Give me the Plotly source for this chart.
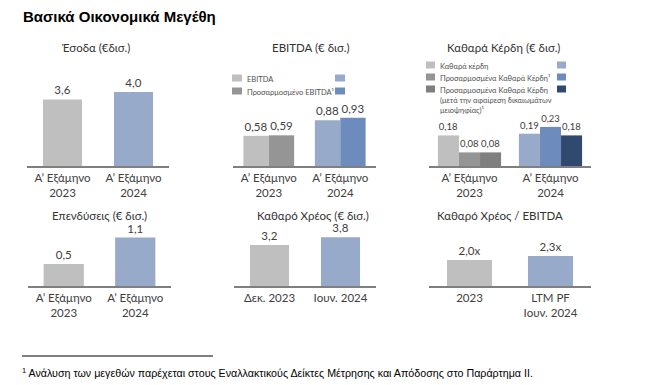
import plotly.graph_objects as go

# ---------------- data ----------------
h1_categories = ["Α’ Εξάμηνο<br>2023", "Α’ Εξάμηνο<br>2024"]
revenue = [3.6, 4.0]
ebitda = [0.58, 0.88]
adj_ebitda = [0.59, 0.93]
net_profit = [0.18, 0.19]
adj_net_profit = [0.08, 0.23]
adj_net_profit_after_mi = [0.08, 0.18]
capex = [0.5, 1.1]
debt_categories = ["Δεκ. 2023", "Ιουν. 2024"]
net_debt = [3.2, 3.8]
leverage_categories = ["2023", "LTM PF<br>Ιουν. 2024"]
leverage = [2.0, 2.3]

panel_titles = ["Έσοδα (€δισ.)", "EBITDA (€ δισ.)", "Καθαρά Κέρδη (€ δισ.)",
                "Επενδύσεις (€ δισ.)", "Καθαρό Χρέος (€ δισ.)", "Καθαρό Χρέος / EBITDA"]
ebitda_legend = ["EBITDA", "Προσαρμοσμένο EBITDA¹"]
profit_legend = ["Καθαρά κέρδη", "Προσαρμοσμένα Καθαρά Κέρδη¹",
                 "Προσαρμοσμένα Καθαρά Κέρδη<br>(μετά την αφαίρεση δικαιωμάτων<br>μειοψηφίας)¹"]
main_title = "Βασικά Οικονομικά Μεγέθη"
footnote = "<sup>1</sup> Ανάλυση των μεγεθών παρέχεται στους Εναλλακτικούς Δείκτες Μέτρησης και Απόδοσης στο Παράρτημα ΙΙ."

# ---------------- style ----------------
W, H = 664, 385
GREY1, GREY2, GREY3 = "#bfbfbf", "#959595", "#7f7f7f"
BLUE1, BLUE2, BLUE3 = "#97aac9", "#6d8cbd", "#2f4a6e"
TXT = "#404040"
FONT = "Lato"

def px_x(x):
    return x / W

def px_y(y):
    return 1 - y / H

fig = go.Figure()

panels = [
    dict(x=(27, 169), base=166, top=60, scale=18.5),
    dict(x=(233, 376), base=166, top=60, scale=52.0),
    dict(x=(429, 591), base=166, top=60, scale=170.0),
    dict(x=(28, 171), base=286, top=225, scale=44.0),
    dict(x=(234, 376), base=286, top=225, scale=12.8),
    dict(x=(429, 591), base=286, top=225, scale=13.0),
]

def add_bar(i, cats, vals, colors, width, offset, fmt, fsize=11.5):
    fig.add_trace(go.Bar(
        x=cats, y=vals, marker=dict(color=colors, line=dict(width=0)),
        width=width, offset=offset,
        texttemplate=fmt, textposition="outside", cliponaxis=False,
        textfont=dict(family=FONT, size=fsize, color=TXT),
        xaxis=f"x{i+1}" if i else "x", yaxis=f"y{i+1}" if i else "y",
        showlegend=False, hoverinfo="skip"))

add_bar(0, h1_categories, revenue, [GREY1, BLUE1], 0.55, -0.275, "%{y:.1f}")
add_bar(1, h1_categories, ebitda, [GREY1, BLUE1], 0.355, -0.355, "%{y:.2f}")
add_bar(1, h1_categories, adj_ebitda, [GREY2, BLUE2], 0.355, 0.0, "%{y:.2f}")
add_bar(2, h1_categories, net_profit, [GREY1, BLUE1], 0.26, -0.39, "%{y:.2f}", 9.5)
add_bar(2, h1_categories, adj_net_profit, [GREY2, BLUE2], 0.26, -0.13, "%{y:.2f}", 9.5)
add_bar(2, h1_categories, adj_net_profit_after_mi, [GREY3, BLUE3], 0.26, 0.13, "%{y:.2f}", 9.5)
add_bar(3, h1_categories, capex, [GREY1, BLUE1], 0.563, -0.2815, "%{y:.1f}")
add_bar(4, debt_categories, net_debt, [GREY1, BLUE1], 0.55, -0.275, "%{y:.1f}")
add_bar(5, leverage_categories, leverage, [GREY1, BLUE1], 0.556, -0.278, "%{y:.1f}x")

layout = dict(
    width=W, height=H, margin=dict(l=0, r=0, t=0, b=0),
    paper_bgcolor="white", plot_bgcolor="white",
    separators=",.", showlegend=False,
    font=dict(family=FONT, color=TXT),
)
for i, p in enumerate(panels):
    suffix = str(i + 1) if i else ""
    ymax = (p["base"] - p["top"]) / p["scale"]
    layout[f"xaxis{suffix}"] = dict(
        domain=[px_x(p["x"][0]), px_x(p["x"][1])], range=[-0.5, 1.5],
        anchor=f"y{suffix}", type="category", showgrid=False, zeroline=False,
        showline=True, linecolor="#7f7f7f", linewidth=1.5, ticks="",
        tickfont=dict(family=FONT, size=11.5, color=TXT), fixedrange=True)
    layout[f"yaxis{suffix}"] = dict(
        domain=[px_y(p["base"]), px_y(p["top"])],
        anchor=f"x{suffix}", range=[0, ymax], visible=False, fixedrange=True)
fig.update_layout(**layout)

# panel titles
title_pos = [(96, 47), (311, 47), (503, 47), (99, 215), (313, 215), (500, 215)]
for t, (cx, cy) in zip(panel_titles, title_pos):
    fig.add_annotation(text=t, x=px_x(cx), y=px_y(cy), xref="paper", yref="paper",
                       showarrow=False, xanchor="center", yanchor="middle",
                       font=dict(family=FONT, size=11.5, color="#333333"))

# main title
fig.add_annotation(text=f"<b>{main_title}</b>", x=px_x(21), y=px_y(16), xref="paper", yref="paper",
                   showarrow=False, xanchor="left", yanchor="middle",
                   font=dict(family="Liberation Sans", size=15, color="#000000"))

# footnote
fig.add_shape(type="line", xref="paper", yref="paper",
              x0=px_x(22), x1=px_x(213), y0=px_y(356), y1=px_y(356),
              line=dict(color="#000000", width=1))
fig.add_annotation(text=footnote, x=px_x(20), y=px_y(372), xref="paper", yref="paper",
                   showarrow=False, xanchor="left", yanchor="middle",
                   font=dict(family="Liberation Sans", size=10.7, color="#000000"))

# legends (swatches + text)
def legend(items, left_colors, right_colors, sq_x, right_x, rows_y, text_x, size):
    for name, lc, rc, ry in zip(items, left_colors, right_colors, rows_y):
        for x0, c in ((sq_x, lc), (right_x, rc)):
            fig.add_shape(type="rect", xref="paper", yref="paper",
                          x0=px_x(x0), x1=px_x(x0 + size), y0=px_y(ry + 3.5), y1=px_y(ry - 3.5),
                          fillcolor=c, line=dict(width=0))
        fig.add_annotation(text=name, x=px_x(text_x), y=px_y(ry - 5.5), xref="paper", yref="paper",
                           showarrow=False, xanchor="left", yanchor="top", align="left",
                           font=dict(family=FONT, size=7.5, color="#505050"))

legend(ebitda_legend, [GREY1, GREY2], [BLUE1, BLUE2], 232, 335, [78, 91], 245, 10)
legend(profit_legend, [GREY1, GREY2, GREY3], [BLUE1, BLUE2, BLUE3], 426, 557, [65, 77, 89], 438, 9)

fig.write_html("out.html", config={"displayModeBar": False},
               post_script="document.body.style.margin='0';")
